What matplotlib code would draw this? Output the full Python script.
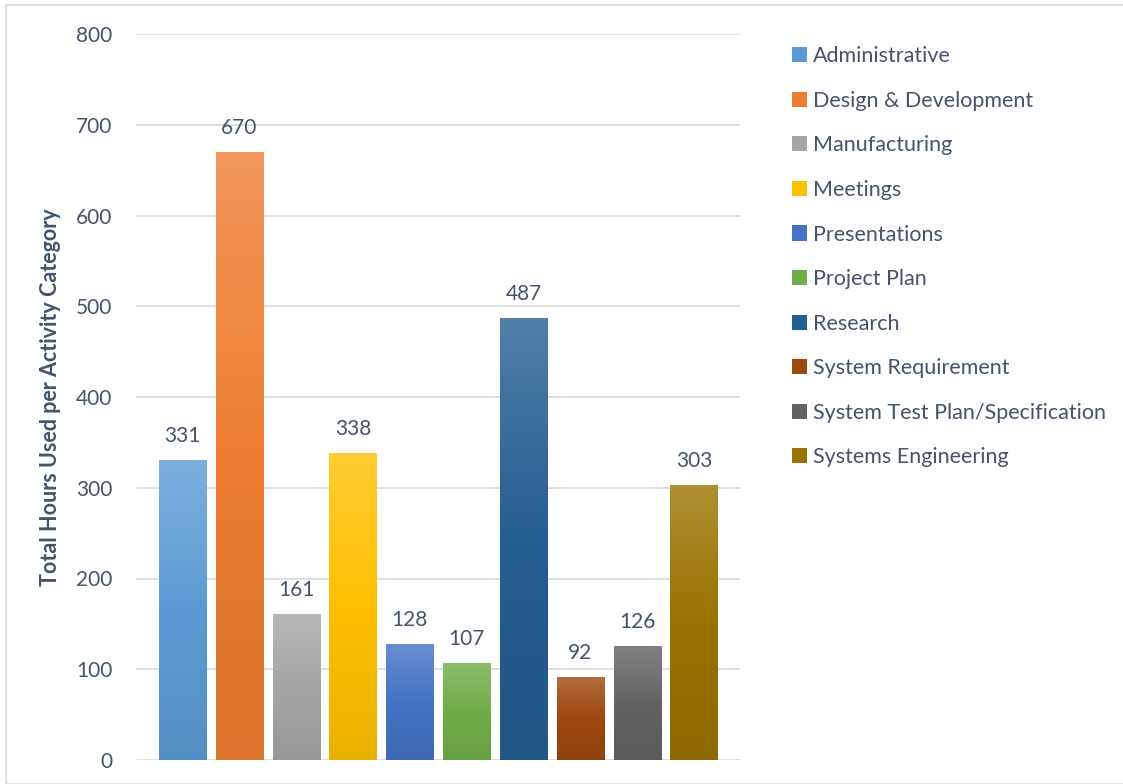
import numpy as np
import matplotlib
matplotlib.use('Agg')
import matplotlib.pyplot as plt
from matplotlib.colors import to_rgb
from matplotlib.patches import Rectangle

categories = ['Administrative', 'Design & Development', 'Manufacturing', 'Meetings',
              'Presentations', 'Project Plan', 'Research', 'System Requirement',
              'System Test Plan/Specification', 'Systems Engineering']
hours = [331, 670, 161, 338, 128, 107, 487, 92, 126, 303]
colors = ['#5B9BD5', '#ED7D31', '#A5A5A5', '#FFC000', '#4472C4',
          '#70AD47', '#255E91', '#9E480E', '#636363', '#997300']

txt = '#44546A'
grid = '#D9D9D9'
plt.rcParams['font.family'] = ['Lato', 'DejaVu Sans']

fig = plt.figure(figsize=(11.23, 7.84), dpi=100)
ax = fig.add_axes([136/1123, 1-760/784, 604/1123, 726/784])

# chart border
fig.patches.append(Rectangle((6/1123, 0), 1, 1-5/784, transform=fig.transFigure,
                             fill=False, edgecolor=grid, lw=1.2))

def grad(c):
    c = np.array(to_rgb(c))
    top = c + (1 - c) * 0.2
    bot = c * 0.92
    t = np.linspace(0, 1, 100)[:, None]
    col = np.where(t < 0.5, top + (c - top) * (t / 0.5), c + (bot - c) * ((t - 0.5) / 0.5))
    return col[:, None, :]

x = np.arange(len(categories))
w = 0.83
bars = ax.bar(x, hours, width=w, color='none', edgecolor='none', zorder=3)
for b, c, v in zip(bars, colors, hours):
    x0 = b.get_x()
    im = ax.imshow(grad(c), extent=[x0, x0 + w, 0, v], aspect='auto', zorder=3,
                   interpolation='bilinear')
    im.set_clip_path(b)
    ax.annotate(str(v), (b.get_x() + w/2, v), xytext=(0, 10), textcoords='offset points',
                ha='center', va='bottom', fontsize=15, color=txt)

ax.set_xlim(-0.82, 9.81)
ax.set_ylim(0, 800)
ax.set_yticks(range(0, 801, 100))
ax.set_xticks([])
ax.yaxis.grid(True, color=grid, lw=1.2, zorder=0)
ax.set_axisbelow(True)
for s in ax.spines.values():
    s.set_visible(False)
ax.tick_params(axis='y', length=0, pad=17, labelsize=15, labelcolor=txt)
ax.set_ylabel('Total Hours Used per Activity Category', fontsize=15.5, fontweight='bold',
              color=txt, labelpad=11)

handles = [Rectangle((0, 0), 1, 1, facecolor=c) for c in colors]
fig.legend(handles, categories, loc='upper left', bbox_to_anchor=(773/1123, 1-27/784),
           frameon=False, fontsize=15.5, labelcolor=txt, handlelength=0.7,
           handleheight=0.7, handletextpad=0.25, labelspacing=1.14)

fig.savefig('out.png', dpi=100)
